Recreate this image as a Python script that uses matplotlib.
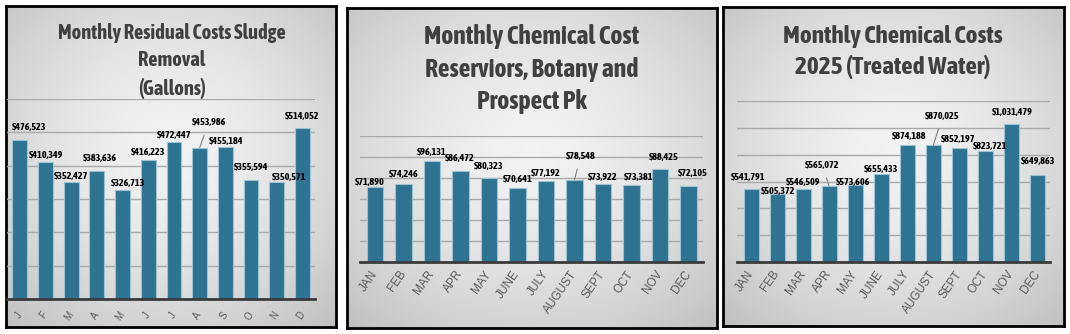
import numpy as np
import matplotlib
matplotlib.use('Agg')
import matplotlib.pyplot as plt

# ---- data -------------------------------------------------------------------
sludge_months = ['J', 'F', 'M', 'A', 'M', 'J', 'J', 'A', 'S', 'O', 'N', 'D']
sludge_costs = [476523, 410349, 352427, 383636, 326713, 416223,
                472447, 453986, 455184, 355594, 350571, 514052]

res_months = ['JAN', 'FEB', 'MAR', 'APR', 'MAY', 'JUNE',
              'JULY', 'AUGUST', 'SEPT', 'OCT', 'NOV', 'DEC']
res_costs = [71890, 74246, 96131, 86472, 80323, 70641,
             77192, 78548, 73922, 73381, 88425, 72105]

treated_months = ['JAN', 'FEB', 'MAR', 'APR', 'MAY', 'JUNE',
                  'JULY', 'AUGUST', 'SEPT', 'OCT', 'NOV', 'DEC']
treated_costs = [541791, 505372, 546509, 565072, 573606, 655433,
                 874188, 870025, 852197, 823721, 1031479, 649863]

# ---- style ------------------------------------------------------------------
W, H = 1070, 334
BAR = '#2e7392'
BAR_EDGE = '#9cc3d3'
GRID = '#a9a9a9'
TITLE_C = '#404040'
TICK_C = '#595959'
CONDENSED = ['Asap Condensed', 'DejaVu Sans']
TICK_FONT = ['Liberation Sans', 'DejaVu Sans']

plt.rcParams['font.family'] = CONDENSED

fig = plt.figure(figsize=(W / 100, H / 100), dpi=100)


def frac(x0, y0, x1, y1):
    # pixel box (top-left origin) -> figure fraction rect
    return [x0 / W, 1 - y1 / H, (x1 - x0) / W, (y1 - y0) / H]


def background(box):
    bg = fig.add_axes(frac(*box))
    yy, xx = np.mgrid[0:1:200j, 0:1:200j]
    r = np.sqrt(((xx - 0.5) / 0.75) ** 2 + ((yy - 0.45) / 0.75) ** 2)
    r = np.clip(r, 0, 1)
    g = 0.95 - 0.2 * r ** 1.6
    bg.imshow(np.dstack([g, g, g]), extent=[0, 1, 0, 1], aspect='auto', origin='upper')
    bg.set_xticks([])
    bg.set_yticks([])
    for s in bg.spines.values():
        s.set_color('black')
        s.set_linewidth(2)
    return bg


def panel(box, plot_box, xlim, ymax, step, months, costs, offsets, leaders,
          title, title_xy, title_size, title_ls, tick_size, tick_pad):
    bg = background(box)
    bg.text(title_xy[0], title_xy[1], title, transform=fig.transFigure,
            ha='center', va='center', fontsize=title_size, fontweight='bold',
            color=TITLE_C, linespacing=title_ls)

    ax = fig.add_axes(frac(*plot_box))
    ax.patch.set_alpha(0)
    x = np.arange(len(costs))
    ax.bar(x, costs, width=0.58, color=BAR, edgecolor=BAR_EDGE, linewidth=0.8, zorder=3)
    ax.set_xlim(*xlim)
    ax.set_ylim(0, ymax)
    ax.set_yticks(np.arange(step, ymax + 1, step))
    ax.yaxis.grid(True, color=GRID, linewidth=1)
    ax.tick_params(axis='y', left=False, labelleft=False)
    ax.set_xticks(x)
    ax.set_xticklabels(months, rotation=55, ha='right', va='center',
                       rotation_mode='anchor', color=TICK_C,
                       fontsize=tick_size, family=TICK_FONT)
    ax.tick_params(axis='x', length=0, pad=tick_pad)
    for s in ['top', 'right', 'left']:
        ax.spines[s].set_visible(False)
    ax.spines['bottom'].set_color('#3a3a3a')
    ax.spines['bottom'].set_linewidth(2)
    ax.spines['bottom'].set_zorder(4)

    for i, v in enumerate(costs):
        dx, dy = offsets[i]
        kw = {}
        if i in leaders:
            kw['arrowprops'] = dict(arrowstyle='-', color='#7f7f7f', lw=0.8,
                                    shrinkA=4, shrinkB=0)
        ax.annotate('${:,}'.format(v), (i, v), xytext=(dx, dy),
                    textcoords='offset pixels', ha='center', va='center',
                    fontsize=7.3, fontweight='bold', color='black', zorder=5,
                    annotation_clip=False, **kw)
    return ax


# panel 1: sludge removal
panel(box=(6, 6, 336, 327), plot_box=(7, 99, 315, 299), xlim=(-0.5, 11.49),
      ymax=600000, step=100000, months=sludge_months, costs=sludge_costs,
      offsets=[(9, 13), (0, 7), (0, 5), (3, 13), (5, 7), (0, 8),
               (0, 6), (9, 25), (1, 6), (0, 13), (12, 5), (0, 11)],
      leaders=[7],
      title='Monthly Residual Costs Sludge\nRemoval\n(Gallons)',
      title_xy=(172 / W, 1 - 61 / H), title_size=14.7, title_ls=1.47,
      tick_size=7, tick_pad=10)

# panel 2: reservoirs chemical cost
panel(box=(347, 8, 717, 328), plot_box=(360, 136, 703, 262), xlim=(-0.53, 11.51),
      ymax=120000, step=20000, months=res_months, costs=res_costs,
      offsets=[(-5, 4), (0, 10), (0, 9), (-1, 13), (0, 11), (0, 8),
               (0, 7), (6, 23), (0, 7), (7, 7), (4, 12), (4, 13)],
      leaders=[7],
      title='Monthly Chemical Cost\nReserviors, Botany and\nProspect Pk',
      title_xy=(532 / W, 1 - 69 / H), title_size=18.5, title_ls=1.36,
      tick_size=8.5, tick_pad=7)

# panel 3: treated water chemical costs
panel(box=(723, 7, 1064, 326), plot_box=(737, 101, 1050, 262), xlim=(-0.54, 11.48),
      ymax=1200000, step=200000, months=treated_months, costs=treated_costs,
      offsets=[(-3, 12), (1, 3), (0, 6), (-7, 21), (-2, 3), (0, 5),
               (2, 8), (9, 29), (-1, 8), (5, 5), (1, 11), (1, 13)],
      leaders=[3, 7],
      title='Monthly Chemical Costs\n2025 (Treated Water)',
      title_xy=(893 / W, 1 - 52 / H), title_size=18.2, title_ls=1.4,
      tick_size=8.5, tick_pad=7)

fig.savefig('out.png', dpi=100)
